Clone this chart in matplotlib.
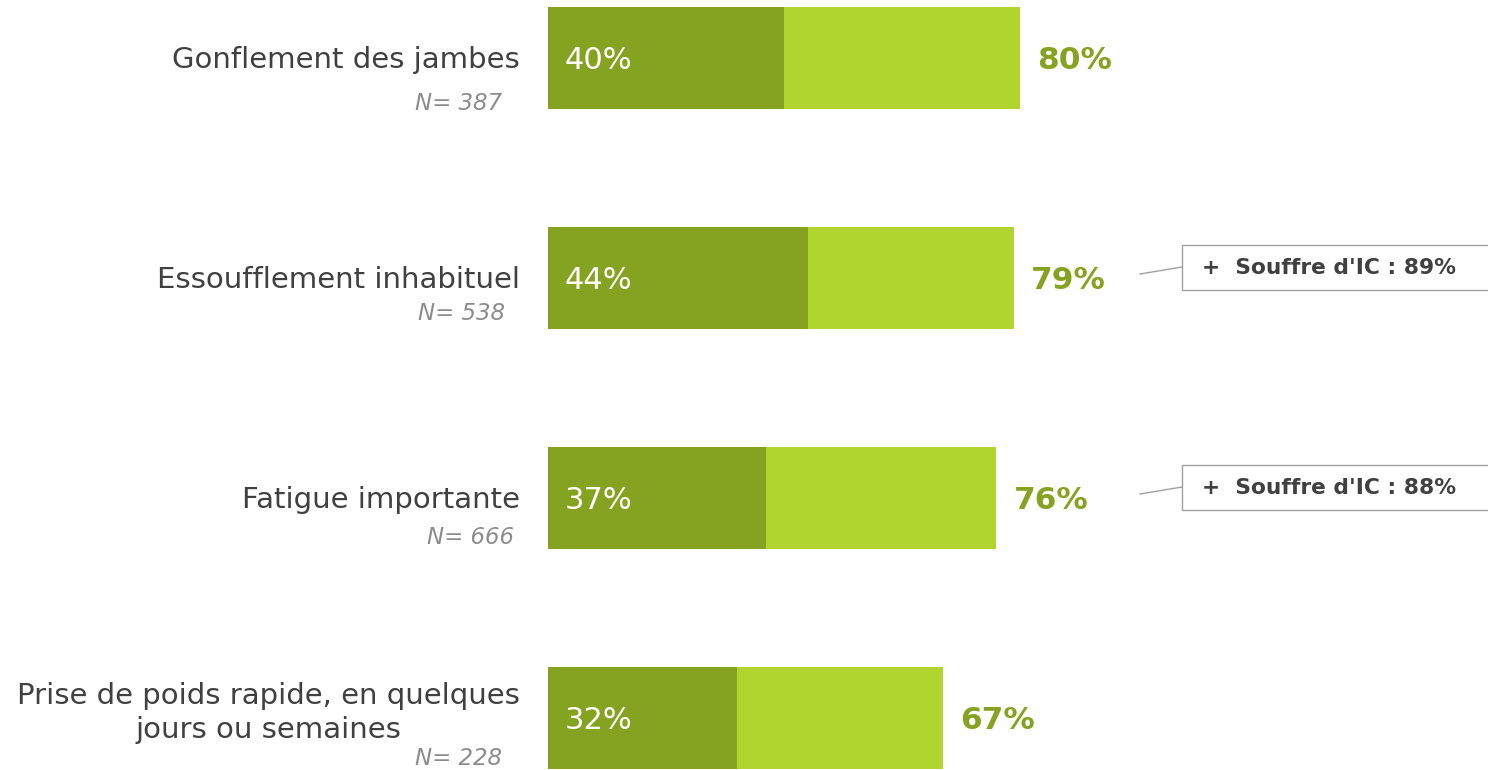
import matplotlib.pyplot as plt
from matplotlib.patches import Rectangle

plt.rcParams['font.family'] = ['DejaVu Sans']

categories = [
    "Gonflement des jambes",
    "Essoufflement inhabituel",
    "Fatigue importante",
    "Prise de poids rapide, en quelques\njours ou semaines",
]
sample_sizes = [387, 538, 666, 228]
first_share = [40, 44, 37, 32]
total_share = [80, 79, 76, 67]
ic_share = [None, 89, 88, None]

DARK = "#86A221"
LIGHT = "#B0D52E"
TEXT = "#404040"
GREY = "#8C8C8C"

W, H = 1488, 770
fig = plt.figure(figsize=(W / 100, H / 100), dpi=100)
px_per_pct = 5.9
left_px = 548
ax = fig.add_axes([left_px / W, 0, 1 - left_px / W, 1])
ax.set_xlim(0, (W - left_px) / px_per_pct)
row_px = 220
first_center_px = 58
ax.set_ylim((H - first_center_px) / row_px, -first_center_px / row_px)
ax.axis("off")

bar_h = 102 / row_px
ys = list(range(len(categories)))

ax.barh(ys, first_share, height=bar_h, color=DARK, edgecolor="none")
ax.barh(ys, [t - f for t, f in zip(total_share, first_share)], left=first_share,
        height=bar_h, color=LIGHT, edgecolor="none")

# N= label anchors: right edge in pixels from the figure's left, offset below row centre
n_right_px = [502, 505, 514, 502]
n_dy_px = [45, 35, 39, 40.5]
# category label vertical nudge in pixels (two-line label sits a little higher)
cat_dy_px = [2, 2, 2, -5]

for i, (cat, n, f, t, ic) in enumerate(zip(categories, sample_sizes, first_share,
                                           total_share, ic_share)):
    ax.text(-28 / px_per_pct, i + cat_dy_px[i] / row_px, cat,
            ha="right", va="center", multialignment="center",
            fontsize=21, color=TEXT, linespacing=1.25)
    ax.text((n_right_px[i] - left_px) / px_per_pct, i + n_dy_px[i] / row_px,
            f"N= {n}", ha="right", va="center",
            fontsize=16.5, color=GREY, style="italic")
    ax.text(17 / px_per_pct, i + 0.01, f"{f}%", ha="left", va="center",
            fontsize=22, color="white")
    ax.text(t + 17 / px_per_pct, i + 0.01, f"{t}%", ha="left", va="center",
            fontsize=22.5, color=DARK, fontweight="bold")
    if ic is not None:
        box_x0 = (1182 - left_px) / px_per_pct
        box_y0 = i - 33 / row_px
        ax.add_patch(Rectangle((box_x0, box_y0), 400 / px_per_pct, 45 / row_px,
                               facecolor="white", edgecolor="#A0A0A0", lw=1.0,
                               clip_on=True))
        ax.plot([(1140 - left_px) / px_per_pct, box_x0],
                [i - 4 / row_px, i - 11 / row_px],
                color="#A0A0A0", lw=1.0)
        ax.text(box_x0 + 20 / px_per_pct, i - 10 / row_px,
                f"+  Souffre d'IC : {ic}%", ha="left", va="center",
                fontsize=15.7, color=TEXT, fontweight="bold")

fig.savefig("out.png", dpi=100, facecolor="white")
